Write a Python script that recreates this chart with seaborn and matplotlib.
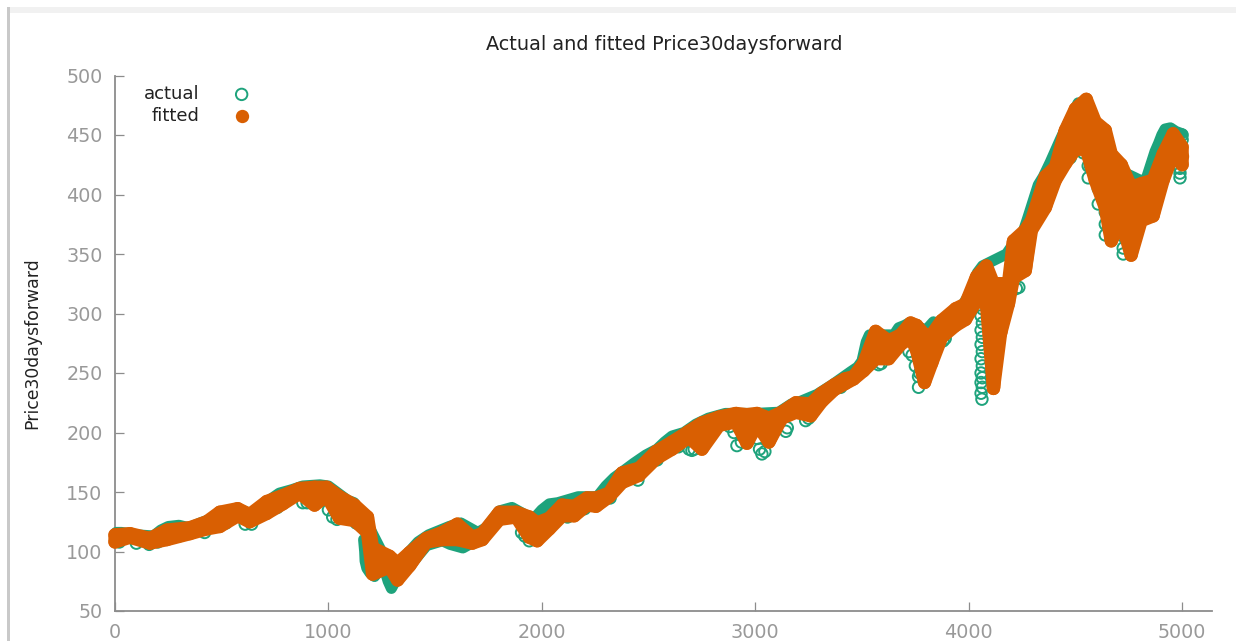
import matplotlib
matplotlib.use("Agg")
import matplotlib.pyplot as plt
from matplotlib.patches import Rectangle
import seaborn as sns

title_text = "Actual and fitted Price30daysforward"
y_label = "Price30daysforward"
series_names = ["actual", "fitted"]
x_ticks = [0, 1000, 2000, 3000, 4000, 5000]
y_ticks = [50, 100, 150, 200, 250, 300, 350, 400, 450, 500]

# fitted: x positions shared by the upper and lower edge of the band
fit_x = [0, 70, 164, 243, 351, 430, 491, 575, 631, 711, 786, 865, 935, 991, 1052, 1122, 1183,
         1207, 1286, 1324, 1380, 1459, 1534, 1604, 1674, 1721, 1801, 1880, 1941, 1978, 2035, 2095,
         2152, 2212, 2254, 2315, 2376, 2456, 2535, 2610, 2689, 2750, 2830, 2909, 2961, 3008, 3064,
         3124, 3190, 3260, 3311, 3370, 3420, 3461, 3508, 3564, 3625, 3681, 3728, 3756, 3793, 3826,
         3873, 3939, 3985, 4037, 4083, 4116, 4149, 4186, 4210, 4265, 4294, 4359, 4406, 4453, 4500,
         4551, 4593, 4640, 4668, 4715, 4761, 4808, 4864, 4911, 4958, 5000]
fit_hi_y = [114, 115, 111, 118, 120, 125, 133, 136, 131, 142, 147, 153, 154, 154, 146, 139, 129,
            103, 96, 90, 99, 111, 116, 123, 112, 115, 133, 133, 129, 124, 128, 139,
            138, 145, 145, 149, 166, 170, 184, 192, 201, 208, 213, 216, 215, 216, 212,
            217, 225, 224, 233, 240, 245, 247, 258, 285, 277, 282, 292, 290, 282, 282,
            294, 304, 308, 331, 340, 325, 325, 325, 361, 370, 378, 415, 423, 454, 472,
            480, 461, 454, 434, 425, 406, 409, 412, 434, 451, 440]
fit_lo_y = [108, 112, 107, 110, 115, 119, 121, 130, 125, 132, 140, 149, 139, 147, 128, 126, 116,
            81, 87, 76, 88, 108, 110, 110, 107, 110, 127, 129, 112, 109, 119, 130,
            130, 139, 138, 146, 158, 164, 178, 186, 196, 186, 206, 209, 191, 207, 192,
            212, 217, 214, 226, 236, 241, 245, 252, 262, 262, 274, 280, 269, 242, 258,
            280, 290, 295, 311, 308, 237, 283, 308, 330, 336, 370, 389, 412, 426, 438,
            438, 412, 389, 361, 378, 349, 378, 382, 412, 434, 425]
# fitted: points inside the wide parts of the band
fit_in_x = [1207, 1324, 2750, 2961, 3064, 3564, 3625, 3756, 3793, 3793, 3826,
            4037, 4083, 4083, 4100, 4116, 4116, 4116, 4116, 4116, 4116, 4116, 4116, 4149, 4149, 4149,
            4210, 4265, 4265, 4359, 4453, 4500, 4551, 4551, 4551,
            4593, 4593, 4593, 4593, 4640, 4640, 4640, 4640, 4640, 4640,
            4668, 4668, 4668, 4668, 4668, 4668, 4715, 4715, 4715, 4715,
            4761, 4761, 4761, 4761, 4761, 4808, 4808, 4864, 4864, 4911, 4958, 5000]
fit_in_y = [92, 83, 197, 203, 202, 273, 270, 280, 268, 255, 270,
            321, 330, 320, 322, 315, 305, 295, 285, 275, 265, 255, 246, 315, 305, 295,
            345, 358, 347, 402, 440, 455, 468, 458, 448,
            450, 440, 430, 420, 444, 434, 424, 414, 404, 396,
            424, 414, 404, 394, 384, 372, 415, 405, 395, 385,
            396, 386, 376, 366, 357, 398, 388, 402, 392, 423, 442, 432]

# actual: upper edge of the band
act_up_x = [5, 30, 100, 180, 215, 250, 300, 345, 400, 460, 540, 590, 660, 690, 730, 770, 830, 880, 960,
            1000, 1090, 1120, 1175, 1300, 1360, 1420, 1470, 1566, 1620, 1700, 1740, 1800, 1860, 1960, 2000,
            2035, 2075, 2170, 2210, 2260, 2300, 2339, 2385, 2430, 2487, 2540, 2575, 2610, 2666, 2722, 2780,
            2860, 3000, 3110, 3170, 3210, 3290, 3360, 3447, 3480, 3500, 3510, 3520, 3535, 3600, 3650, 3672,
            3700, 3720, 3800, 3835, 3860, 3920, 3975, 4010, 4040, 4065, 4177, 4200, 4247, 4280, 4326, 4350,
            4382, 4429, 4476, 4513, 4560, 4610, 4686, 4803, 4830, 4873, 4890, 4905, 4920, 4945, 4970, 5000]
act_up_y = [116, 116, 114, 113, 118, 121, 122, 120, 124, 128, 132, 135, 130, 138, 144, 149, 152, 155, 156,
            155, 143, 141, 126, 82, 96, 108, 114, 121, 124, 116, 120, 134, 137, 127, 135,
            140, 141, 146, 146, 146, 155, 162, 168, 174, 181, 186, 192, 197, 200, 207, 212,
            216, 216, 217, 224, 226, 232, 240, 251, 255, 260, 268, 276, 282, 282, 282, 288,
            290, 292, 286, 293, 288, 300, 308, 318, 334, 340, 350, 356, 364, 382, 408, 415,
            427, 446, 464, 477, 465, 440, 422, 412, 412, 436, 443, 450, 455, 456, 453, 451]
# actual: solid-looking lower stretches
act_dip_x = [1165, 1170, 1172, 1180, 1195, 1216, 1240, 1265, 1280, 1295, 1310, 1360, 1390, 1460, 1534, 1570, 1630, 1690]
act_dip_y = [110, 100, 92, 86, 82, 79, 85, 84, 75, 69, 74, 88, 90, 105, 109, 106, 103, 109]
# actual: single open rings that stand clear of the band
act_lo_x = [20, 100, 160, 200, 300, 420, 520, 610, 640, 760, 880, 900, 1000, 1020, 1040, 1130,
            1905, 1920, 1941, 2120, 2200, 2320, 2450, 2540, 2640, 2690, 2703, 2714, 2880, 2900, 2914, 2935, 3010,
            3020, 3031, 3045, 3143, 3150, 3236, 3250, 3400, 3578, 3590, 3720, 3735, 3750, 3765, 3765, 3770,
            3880, 3890, 4058, 4064, 4058, 4064, 4058, 4064, 4058, 4064, 4058, 4064, 4058, 4064, 4058, 4064, 4058,
            4062, 4110, 4223, 4235,
            4340, 4476, 4537, 4560, 4560, 4570, 4607, 4607, 4640, 4640, 4640, 4655, 4724, 4724, 4724,
            4990, 4990, 4990, 4990, 5000, 5000]
act_lo_y = [108, 107, 106, 108, 113, 116, 124, 123, 123, 137, 141, 141, 135, 129, 127, 124,
            116, 113, 109, 129, 136, 145, 160, 177, 188, 186, 185, 186, 205, 200, 189, 192, 195,
            186, 182, 184, 201, 204, 210, 212, 238, 257, 258, 268, 265, 256, 247, 238, 250,
            277, 279, 310, 304, 298, 292, 286, 280, 274, 268, 262, 256, 250, 246, 242, 238, 233,
            228, 317, 321, 322,
            385, 431, 435, 424, 414, 424, 405, 392, 385, 375, 366, 372, 365, 355, 350,
            428, 422, 418, 414, 450, 446]

GREEN = "#1ea37c"
ORANGE = "#d95f02"
GRAY = "#8c8c8c"

sns.set_theme(style="white", rc={"font.family": ["DejaVu Sans"]})
fig = plt.figure(figsize=(12.36, 6.41), dpi=100, facecolor="white")
W, H = 1236, 641
ax = fig.add_axes([115 / W, 1 - 611 / H, (1212 - 115) / W, (611 - 75.5) / H])

# the 5000 daily points overlap into a continuous band, so each band is drawn as a thick round path
rung_x, rung_y = [], []
for x0, hi, lo in zip(fit_x, fit_hi_y, fit_lo_y):
    rung_x += [x0, x0]
    rung_y += [hi, lo]

round_line = dict(sort=False, estimator=None, legend=False, clip_on=False,
                  solid_capstyle="round", solid_joinstyle="round")
sns.lineplot(x=act_up_x, y=act_up_y, ax=ax, color=GREEN, lw=8.0, zorder=3, **round_line)
sns.lineplot(x=act_dip_x, y=act_dip_y, ax=ax, color=GREEN, lw=8.0, zorder=3, **round_line)
sns.scatterplot(x=act_lo_x, y=act_lo_y, ax=ax, s=68, marker="o", facecolor="none",
                edgecolor=GREEN, linewidth=1.4, label=series_names[0], clip_on=False, zorder=3)
sns.lineplot(x=fit_x, y=fit_hi_y, ax=ax, color=ORANGE, lw=9.6, zorder=4, **round_line)
sns.lineplot(x=fit_x, y=fit_lo_y, ax=ax, color=ORANGE, lw=9.6, zorder=4, **round_line)
sns.lineplot(x=rung_x, y=rung_y, ax=ax, color=ORANGE, lw=9.6, zorder=4, **round_line)
sns.scatterplot(x=fit_in_x, y=fit_in_y, ax=ax, s=92, marker="o", color=ORANGE,
                linewidth=0, label=series_names[1], clip_on=False, zorder=4)

ax.set_xlim(0, 5140)
ax.set_ylim(50, 500)
ax.set_xticks(x_ticks)
ax.set_yticks(y_ticks)
ax.set_xlabel("")
ax.set_ylabel("")
for s in ("top", "right"):
    ax.spines[s].set_visible(False)
for s in ("left", "bottom"):
    ax.spines[s].set_color(GRAY)
    ax.spines[s].set_linewidth(1.3)
ax.tick_params(axis="both", direction="in", length=6.5, width=0.9, color=GRAY,
               labelcolor="#999999", labelsize=13.8, left=True, bottom=True)
ax.tick_params(axis="x", pad=9)
ax.tick_params(axis="y", pad=9)

leg = ax.legend(loc="upper left", bbox_to_anchor=(0.0264, 0.982), frameon=False, markerfirst=False,
                fontsize=13, labelspacing=0.2, handletextpad=1.63, handlelength=1.4, borderpad=0, borderaxespad=0)
for t in leg.get_texts():
    t.set_color("#222222")

fig.text(664 / W, 1 - 44 / H, title_text, ha="center", va="center", fontsize=13.9, color="#222222")
fig.text(32 / W, 1 - 343 / H, y_label, ha="center", va="center", rotation=90, fontsize=12.4, color="#222222")

fig.add_artist(Rectangle((7 / W, 0), 3 / W, 1 - 7 / H, transform=fig.transFigure, color="#c9c9c9", lw=0))
fig.add_artist(Rectangle((10 / W, 1 - 12.5 / H), 1 - 10 / W, 5.5 / H, transform=fig.transFigure, color="#f1f1f1", lw=0))

fig.savefig("out.png", dpi=100, facecolor="white")
